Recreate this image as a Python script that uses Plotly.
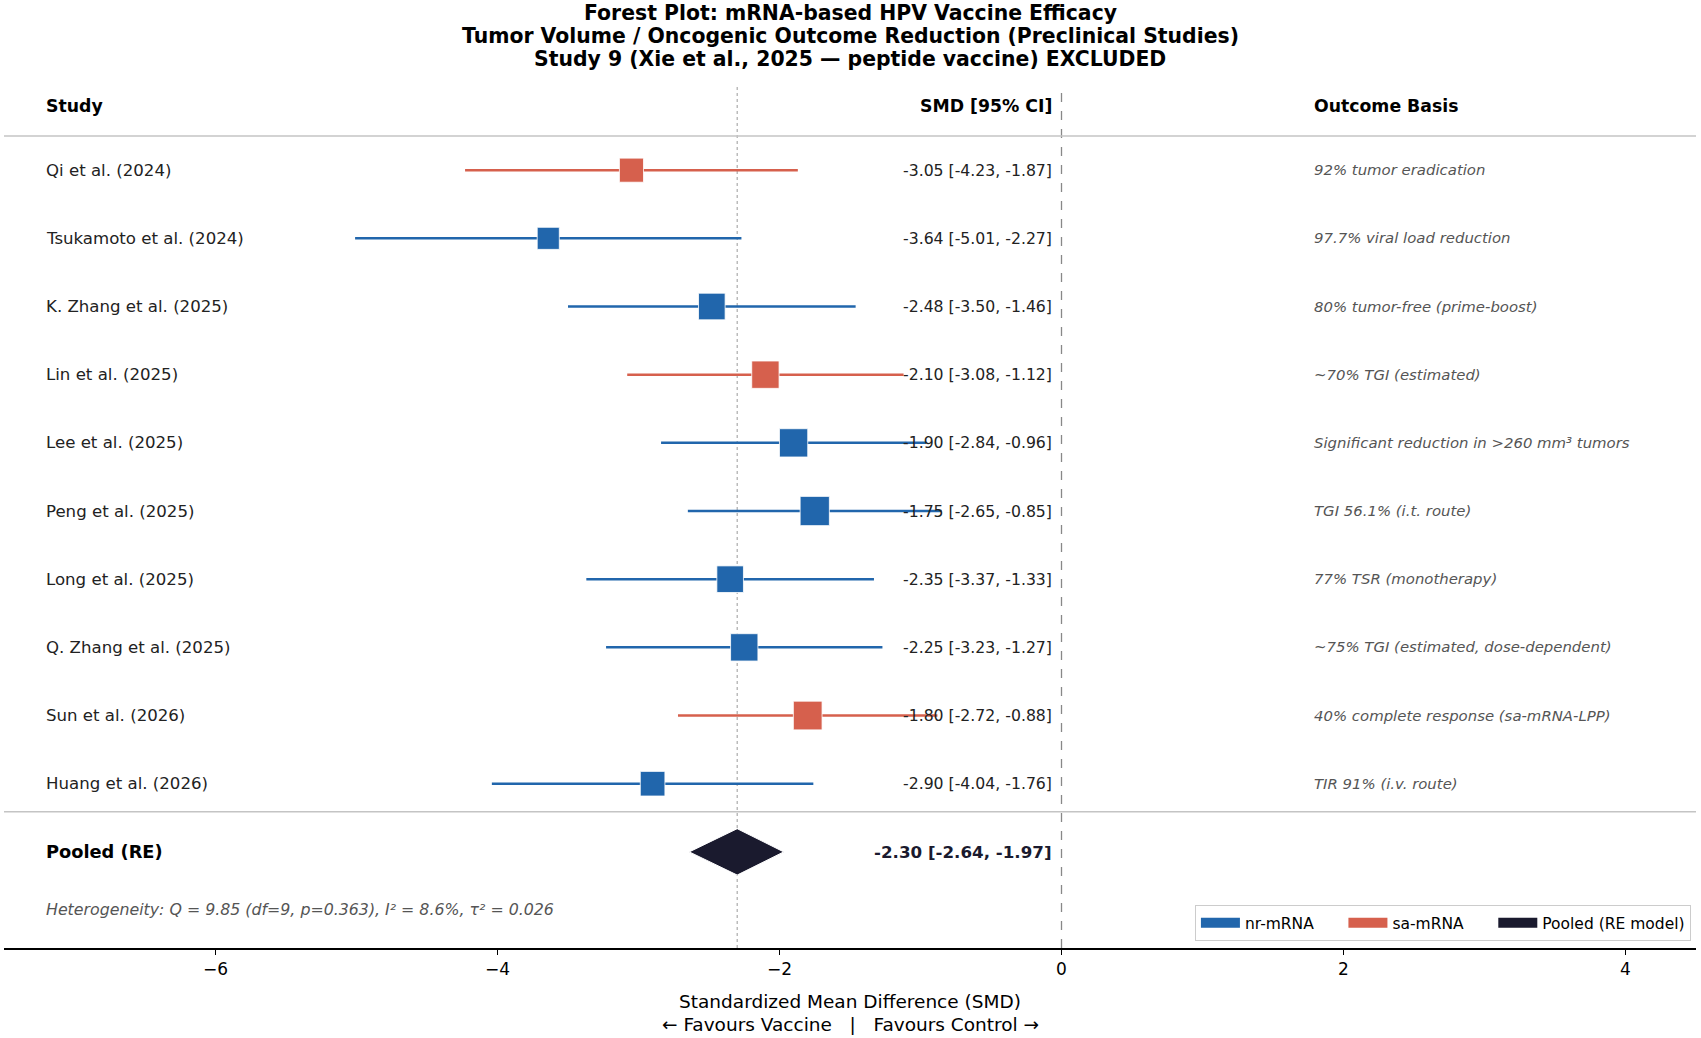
import plotly.graph_objects as go

# ---------------- data ----------------
studies = ["Qi et al. (2024)", "Tsukamoto et al. (2024)", "K. Zhang et al. (2025)",
           "Lin et al. (2025)", "Lee et al. (2025)", "Peng et al. (2025)",
           "Long et al. (2025)", "Q. Zhang et al. (2025)", "Sun et al. (2026)",
           "Huang et al. (2026)"]
smd = [-3.05, -3.64, -2.48, -2.10, -1.90, -1.75, -2.35, -2.25, -1.80, -2.90]
ci_low = [-4.23, -5.01, -3.50, -3.08, -2.84, -2.65, -3.37, -3.23, -2.72, -4.04]
ci_high = [-1.87, -2.27, -1.46, -1.12, -0.96, -0.85, -1.33, -1.27, -0.88, -1.76]
platform = ["sa-mRNA", "nr-mRNA", "nr-mRNA", "sa-mRNA", "nr-mRNA",
            "nr-mRNA", "nr-mRNA", "nr-mRNA", "sa-mRNA", "nr-mRNA"]
weight_pct = [7.7, 5.8, 10.1, 10.8, 11.7, 12.6, 10.1, 10.8, 12.1, 8.2]
outcome = ["92% tumor eradication", "97.7% viral load reduction",
           "80% tumor-free (prime-boost)", "~70% TGI (estimated)",
           "Significant reduction in >260 mm³ tumors", "TGI 56.1% (i.t. route)",
           "77% TSR (monotherapy)", "~75% TGI (estimated, dose-dependent)",
           "40% complete response (sa-mRNA-LPP)", "TIR 91% (i.v. route)"]
pooled_label = "Pooled (RE)"
pooled_est = -2.30
pooled_low = -2.64
pooled_high = -1.97
heterogeneity = "Heterogeneity: Q = 9.85 (df=9, p=0.363), I² = 8.6%, τ² = 0.026"
title_lines = ["Forest Plot: mRNA-based HPV Vaccine Efficacy",
               "Tumor Volume / Oncogenic Outcome Reduction (Preclinical Studies)",
               "Study 9 (Xie et al., 2025 — peptide vaccine) EXCLUDED"]
x_ticks = [-6, -4, -2, 0, 2, 4]
x_title = ["Standardized Mean Difference (SMD)", "← Favours Vaccine   |   Favours Control →"]
legend_names = ["nr-mRNA", "sa-mRNA", "Pooled (RE model)"]

# ---------------- style ----------------
colors = {"nr-mRNA": "#2166ac", "sa-mRNA": "#d6604d", "Pooled (RE model)": "#1a1a2e"}
legend_pad = {"nr-mRNA": 5, "sa-mRNA": 5, "Pooled (RE model)": 0}   # spacing (nbsp count)
pooled_color = colors["Pooled (RE model)"]
FONT = "DejaVu Sans"
n = len(studies)
ys = [n - i for i in range(n)]          # 10 .. 1
Y_POOL = 0
Y_HET = -0.84
Y_HEAD = 10.94
Y_HEADLINE = 10.5
Y_SEP = 0.59
YR = [-1.41, 11.22]
XR = [-7.5, 4.5]
X_LABEL = -7.215
X_SMD = -0.05
X_OUT = 1.78

fig = go.Figure()

# CI lines and markers per platform
for plat in ["nr-mRNA", "sa-mRNA"]:
    lx, ly = [], []
    mx, my, ms = [], [], []
    for i in range(n):
        if platform[i] != plat:
            continue
        lx += [ci_low[i], ci_high[i], None]
        ly += [ys[i], ys[i], None]
        mx.append(smd[i]); my.append(ys[i]); ms.append(16 + 1.05 * weight_pct[i])
    fig.add_trace(go.Scatter(x=lx, y=ly, mode="lines",
                             line=dict(color=colors[plat], width=2.5),
                             showlegend=False, hoverinfo="skip"))
    fig.add_trace(go.Scatter(x=mx, y=my, mode="markers",
                             marker=dict(symbol="square", size=ms, color=colors[plat],
                                         opacity=1,
                                         line=dict(color="white", width=0.8)),
                             showlegend=False))

# pooled diamond
dh = 0.34
fig.add_trace(go.Scatter(x=[pooled_low, pooled_est, pooled_high, pooled_est, pooled_low],
                         y=[Y_POOL, Y_POOL + dh, Y_POOL, Y_POOL - dh, Y_POOL],
                         mode="lines", fill="toself", fillcolor=pooled_color,
                         line=dict(color="white", width=1), showlegend=False,
                         hoverinfo="skip"))

# legend entries (patch-like thick line swatches)
for name in legend_names:
    fig.add_trace(go.Scatter(x=[None], y=[None], mode="lines",
                             name=name + "\u00a0" * legend_pad[name],
                             line=dict(color=colors[name], width=11),
                             showlegend=True))

ann = []
def txt(x, y, s, anchor="left", size=15, color="#222", bold=False, italic=False,
        xref="x", yref="y"):
    if bold:
        s = "<b>" + s + "</b>"
    if italic:
        s = "<i>" + s + "</i>"
    ann.append(dict(x=x, y=y, xref=xref, yref=yref, text=s, showarrow=False,
                    xanchor=anchor, yanchor="middle",
                    font=dict(family=FONT, size=size, color=color)))

# headers
txt(X_LABEL, Y_HEAD, "Study", bold=True, size=17.3, color="black")
txt(X_SMD, Y_HEAD, "SMD [95% CI]", anchor="right", bold=True, size=17.3, color="black")
txt(X_OUT, Y_HEAD, "Outcome Basis", bold=True, size=17.3, color="black")

for i in range(n):
    txt(X_LABEL, ys[i], studies[i], size=16.6, color="#222")
    txt(X_SMD, ys[i], f"{smd[i]:.2f} [{ci_low[i]:.2f}, {ci_high[i]:.2f}]",
        anchor="right", size=15.7, color="#222")
    txt(X_OUT, ys[i], outcome[i], size=14.9, color="#555", italic=True)

txt(X_LABEL, Y_POOL, pooled_label, bold=True, size=17.8, color="black")
txt(X_SMD, Y_POOL, f"{pooled_est:.2f} [{pooled_low:.2f}, {pooled_high:.2f}]",
    anchor="right", bold=True, size=16.7, color=pooled_color)
txt(X_LABEL, Y_HET, heterogeneity, size=15.8, color="#555", italic=True)

# title
for k, line in enumerate(title_lines):
    ann.append(dict(x=0.5, y=[1.0859, 1.0592, 1.0325][k], xref="paper", yref="paper",
                    text="<b>" + line + "</b>", showarrow=False, xanchor="center",
                    yanchor="middle", font=dict(family=FONT, size=20.4, color="black")))
# x axis title (two lines)
for k, line in enumerate(x_title):
    ann.append(dict(x=0.5, y=[-0.0627, -0.0883][k], xref="paper", yref="paper",
                    text=line, showarrow=False, xanchor="center", yanchor="middle",
                    font=dict(family=FONT, size=18.5, color="black")))

shapes = [
    dict(type="line", xref="x", yref="paper", x0=0, x1=0, y0=0, y1=1,
         line=dict(color="#888", width=1.3, dash="dash"), layer="below"),
    dict(type="line", xref="x", yref="paper", x0=pooled_est, x1=pooled_est, y0=0, y1=1,
         line=dict(color="#aaa", width=1.2, dash="dot"), layer="below"),
    dict(type="line", xref="paper", yref="y", x0=0, x1=1, y0=Y_HEADLINE, y1=Y_HEADLINE,
         line=dict(color="#c4c4c4", width=1.5), layer="below"),
    dict(type="line", xref="paper", yref="y", x0=0, x1=1, y0=Y_SEP, y1=Y_SEP,
         line=dict(color="#c4c4c4", width=1.5), layer="below"),
]

fig.update_layout(
    width=1701, height=1038,
    margin=dict(l=4, r=5, t=87, b=90, autoexpand=False),
    plot_bgcolor="white", paper_bgcolor="white",
    font=dict(family=FONT, size=15, color="black"),
    annotations=ann, shapes=shapes,
    showlegend=True,
    legend=dict(orientation="h", x=0.997, y=0.008, xanchor="right", yanchor="bottom",
                bordercolor="#cccccc", borderwidth=1, bgcolor="white",
                font=dict(family=FONT, size=15.5, color="black"),
                itemwidth=39, traceorder="normal"),
    xaxis=dict(range=XR, tickvals=x_ticks, showgrid=False, zeroline=False,
               showline=True, linecolor="black", linewidth=1.6,
               ticks="outside", ticklen=5, tickwidth=1, tickcolor="black",
               tickfont=dict(family=FONT, size=17, color="black"), fixedrange=True),
    yaxis=dict(range=YR, visible=False, showgrid=False, zeroline=False, fixedrange=True),
    hovermode=False,
)

fig.write_html("out.html", config={"displayModeBar": False},
               post_script="document.body.style.margin='0';document.body.style.padding='0';")
